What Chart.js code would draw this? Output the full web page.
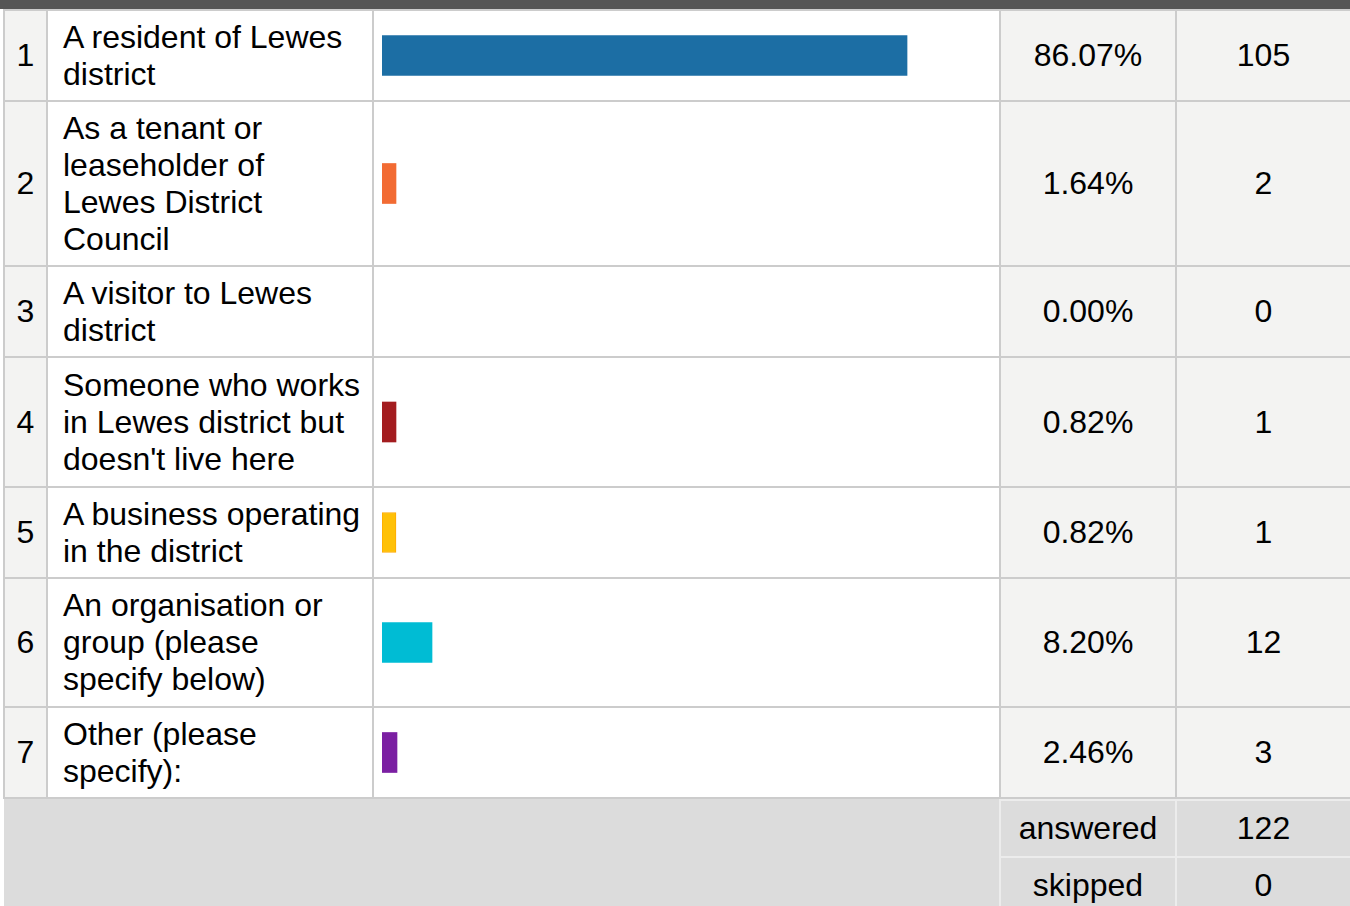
<!DOCTYPE html>
<html><head><meta charset="utf-8">
<script src="https://cdn.jsdelivr.net/npm/chart.js@4.4.1/dist/chart.umd.min.js"></script>
<style>
html,body{margin:0;padding:0;background:#fff;width:1350px;height:906px;overflow:hidden;font-family:"Liberation Sans",Arial,sans-serif;color:#000;}
#wrap{position:relative;width:1350px;height:906px;overflow:hidden;}
.blk{position:absolute;box-sizing:border-box;}
.cell{position:absolute;box-sizing:border-box;display:flex;align-items:center;font-size:32px;line-height:37px;white-space:nowrap;}
.center{justify-content:center;text-align:center;}
.grey{background:#f3f3f2;}
.white{background:#fff;}
.foot{background:#dcdcdc;}
canvas{display:block;}
</style>
</head><body>
<div id="wrap"></div>
<script>
// ---- data ----
const rowNumbers = [1, 2, 3, 4, 5, 6, 7];
const categories = [
  ["A resident of Lewes", "district"],
  ["As a tenant or", "leaseholder of", "Lewes District", "Council"],
  ["A visitor to Lewes", "district"],
  ["Someone who works", "in Lewes district but", "doesn't live here"],
  ["A business operating", "in the district"],
  ["An organisation or", "group (please", "specify below)"],
  ["Other (please", "specify):"]
];
const percents = [86.07, 1.64, 0.00, 0.82, 0.82, 8.20, 2.46];
const counts = [105, 2, 0, 1, 1, 12, 3];
const barColors = ["#1c6ea4", "#f26b33", "#ffffff", "#a31c1f", "#ffc107", "#00bcd4", "#7b1fa2"];
const summaryLabels = ["answered", "skipped"];
const summaryValues = [122, 0];
const axisMin = 0, axisMax = 100;

// ---- layout ----
const rowHeights = [89, 163, 89, 128, 89, 127, 89];
const cols = { n: [5, 46], label: [48, 372], bar: [374, 999], pct: [1001, 1175], cnt: [1177, 1350] };
const wrap = document.getElementById('wrap');
function blk(x, y, w, h, cls, bg) {
  const d = document.createElement('div');
  d.className = cls;
  d.style.left = x + 'px'; d.style.top = y + 'px';
  d.style.width = w + 'px'; d.style.height = h + 'px';
  if (bg) d.style.background = bg;
  wrap.appendChild(d);
  return d;
}
// header bar and grid line background
blk(0, 0, 1350, 9, 'blk', '#555555');
blk(3, 9, 1347, 790, 'blk', '#cccccc');

let y = 11;
rowNumbers.forEach((num, i) => {
  const h = rowHeights[i];
  const c1 = blk(cols.n[0], y, cols.n[1] - cols.n[0], h, 'cell center grey');
  c1.textContent = num;
  const c2 = blk(cols.label[0], y, cols.label[1] - cols.label[0], h, 'cell white');
  c2.style.paddingLeft = '15px';
  c2.innerHTML = '<div>' + categories[i].join('<br>') + '</div>';
  const c3 = blk(cols.bar[0], y, cols.bar[1] - cols.bar[0], h, 'blk white');
  const cv = document.createElement('canvas');
  c3.appendChild(cv);
  cv.style.width = (cols.bar[1] - cols.bar[0]) + 'px';
  cv.style.height = h + 'px';
  const c4 = blk(cols.pct[0], y, cols.pct[1] - cols.pct[0], h, 'cell center grey');
  c4.textContent = percents[i].toFixed(2) + '%';
  const c5 = blk(cols.cnt[0], y, cols.cnt[1] - cols.cnt[0], h, 'cell center grey');
  c5.textContent = counts[i];

  const col = percents[i] > 0 ? barColors[i] : 'rgba(0,0,0,0)';
  new Chart(cv, {
    type: 'bar',
    data: {
      labels: [categories[i].join(' ')],
      datasets: [{
        data: [percents[i]],
        backgroundColor: col,
        borderColor: i === 4 ? '#ffa800' : col,
        borderWidth: i === 4 ? 1 : 0,
        borderSkipped: false,
        barThickness: 40,
        minBarLength: percents[i] > 0 ? 14 : 0
      }]
    },
    options: {
      indexAxis: 'y',
      responsive: false,
      animation: false,
      events: [],
      layout: { padding: { left: 8, right: 7, top: 0, bottom: 0 } },
      scales: {
        x: { display: false, min: axisMin, max: axisMax },
        y: { display: false }
      },
      plugins: { legend: { display: false }, tooltip: { enabled: false } }
    }
  });
  y += h + 2;
});

// footer
const fy = y; // 799
blk(4, fy, 1346, 906 - fy, 'blk foot');
blk(cols.bar[1], fy, 1350 - cols.bar[1], 906 - fy, 'blk', '#ececec');
const sh = [55, 55];
let sy = fy + 2;
summaryLabels.forEach((lab, i) => {
  const a = blk(cols.pct[0], sy, cols.pct[1] - cols.pct[0], sh[i], 'cell center foot');
  a.textContent = lab;
  const b = blk(cols.cnt[0], sy, cols.cnt[1] - cols.cnt[0], sh[i], 'cell center foot');
  b.textContent = summaryValues[i];
  sy += sh[i] + 2;
});
</script>
</body></html>
